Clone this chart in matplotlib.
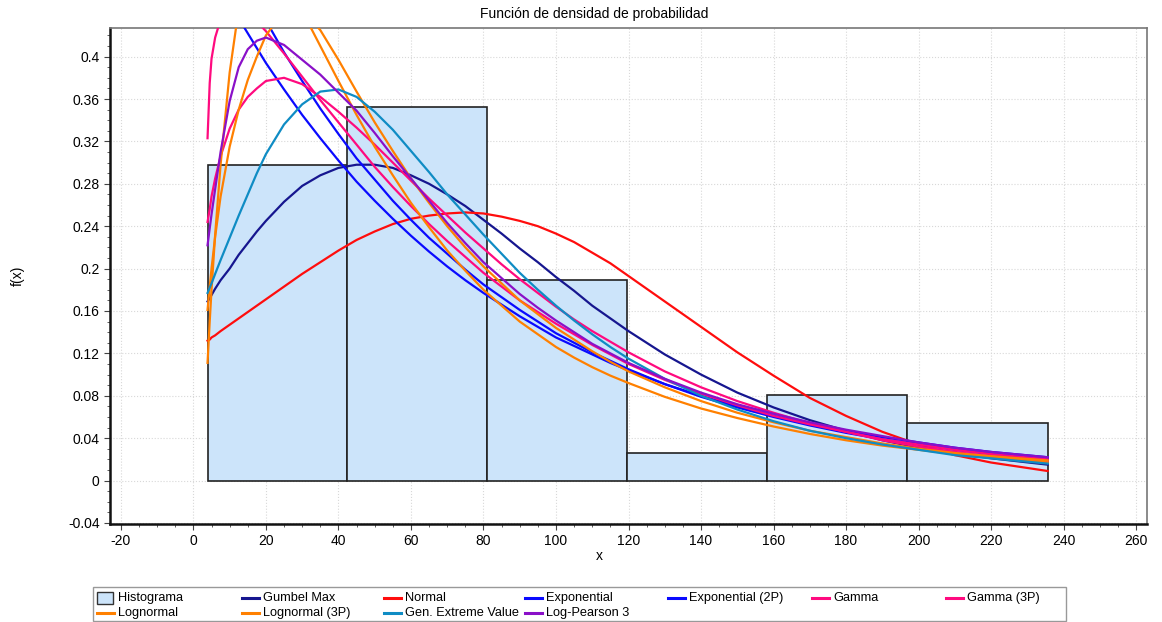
import matplotlib
matplotlib.use('Agg')
import matplotlib.pyplot as plt
from matplotlib.ticker import MultipleLocator, FuncFormatter
from matplotlib.patches import Rectangle
from matplotlib.lines import Line2D
import numpy as np

plt.rcParams['font.family'] = ['Liberation Sans', 'DejaVu Sans']

# histogram (relative frequency per bin)
bin_edges = [3.9, 42.5, 81.1, 119.7, 158.3, 196.9, 235.6]
bin_heights = [0.298, 0.352, 0.189, 0.026, 0.081, 0.054]

# x positions where the fitted curves were read
x_fit = [3.9, 4.5, 5, 6, 7.5, 10, 12.5, 15, 17.5, 20, 25, 30, 35, 40, 45, 50,
         55, 60, 65, 70, 75, 80, 85, 90, 95, 100, 105, 110, 115, 120,
         130, 140, 150, 160, 170, 180, 190, 200, 210, 220, 235.6]

gumbel_max = [0.169, 0.172, 0.175, 0.181, 0.189, 0.200, 0.213, 0.224, 0.235, 0.245,
              0.263, 0.278, 0.288, 0.295, 0.298, 0.298, 0.295, 0.288, 0.280, 0.270,
              0.259, 0.246, 0.233, 0.219, 0.206, 0.192, 0.179, 0.165, 0.153, 0.141,
              0.119, 0.100, 0.083, 0.069, 0.057, 0.047, 0.038, 0.031, 0.026, 0.021, 0.015]
normal = [0.132, 0.133, 0.135, 0.137, 0.141, 0.147, 0.153, 0.159, 0.165, 0.171,
          0.183, 0.195, 0.206, 0.217, 0.227, 0.235, 0.242, 0.247, 0.250, 0.252,
          0.253, 0.252, 0.249, 0.245, 0.240, 0.233, 0.225, 0.215, 0.205, 0.193,
          0.169, 0.145, 0.121, 0.099, 0.078, 0.061, 0.046, 0.034, 0.024, 0.017, 0.009]
exponential = [0.489, 0.485, 0.482, 0.475, 0.466, 0.451, 0.436, 0.422, 0.408, 0.394,
               0.369, 0.345, 0.323, 0.302, 0.282, 0.264, 0.247, 0.231, 0.216, 0.202,
               0.189, 0.177, 0.166, 0.155, 0.145, 0.135, 0.127, 0.119, 0.111, 0.104,
               0.091, 0.080, 0.070, 0.061, 0.053, 0.047, 0.041, 0.036, 0.031, 0.027, 0.022]
exponential_2p = [0.546, 0.541, 0.537, 0.529, 0.518, 0.500, 0.483, 0.466, 0.450, 0.434,
                  0.404, 0.377, 0.351, 0.327, 0.304, 0.284, 0.264, 0.246, 0.229, 0.214,
                  0.199, 0.185, 0.173, 0.161, 0.150, 0.139, 0.130, 0.121, 0.113, 0.105,
                  0.091, 0.079, 0.069, 0.060, 0.052, 0.045, 0.039, 0.034, 0.029, 0.025, 0.020]
gamma = [0.244, 0.256, 0.268, 0.285, 0.306, 0.332, 0.350, 0.362, 0.370, 0.377,
         0.380, 0.374, 0.362, 0.348, 0.333, 0.317, 0.300, 0.283, 0.266, 0.250,
         0.234, 0.219, 0.204, 0.190, 0.177, 0.164, 0.152, 0.141, 0.131, 0.121,
         0.103, 0.088, 0.075, 0.064, 0.054, 0.046, 0.038, 0.032, 0.027, 0.023, 0.018]
gamma_3p = [0.323, 0.375, 0.398, 0.418, 0.435, 0.450, 0.448, 0.442, 0.433, 0.424,
            0.403, 0.381, 0.359, 0.338, 0.317, 0.296, 0.277, 0.259, 0.242, 0.226,
            0.211, 0.196, 0.183, 0.170, 0.159, 0.148, 0.138, 0.128, 0.119, 0.110,
            0.095, 0.082, 0.071, 0.061, 0.053, 0.046, 0.039, 0.034, 0.029, 0.025, 0.020]
lognormal = [0.161, 0.183, 0.200, 0.230, 0.268, 0.315, 0.350, 0.378, 0.400, 0.420,
             0.443, 0.444, 0.425, 0.397, 0.367, 0.338, 0.311, 0.285, 0.262, 0.240,
             0.220, 0.202, 0.186, 0.170, 0.157, 0.144, 0.133, 0.122, 0.112, 0.103,
             0.088, 0.075, 0.064, 0.055, 0.047, 0.041, 0.035, 0.030, 0.026, 0.023, 0.019]
lognormal_3p = [0.111, 0.150, 0.180, 0.232, 0.298, 0.385, 0.445, 0.475, 0.487, 0.488,
                0.472, 0.443, 0.410, 0.377, 0.345, 0.315, 0.288, 0.262, 0.239, 0.217,
                0.198, 0.180, 0.165, 0.150, 0.138, 0.126, 0.116, 0.107, 0.099, 0.092,
                0.079, 0.068, 0.059, 0.051, 0.044, 0.038, 0.033, 0.029, 0.025, 0.022, 0.017]
gev = [0.177, 0.182, 0.186, 0.195, 0.208, 0.229, 0.250, 0.270, 0.290, 0.308,
       0.336, 0.355, 0.367, 0.369, 0.362, 0.348, 0.331, 0.311, 0.291, 0.270,
       0.251, 0.232, 0.214, 0.196, 0.180, 0.165, 0.151, 0.138, 0.126, 0.115,
       0.096, 0.080, 0.067, 0.056, 0.047, 0.040, 0.034, 0.029, 0.024, 0.021, 0.016]
log_pearson3 = [0.222, 0.238, 0.251, 0.275, 0.310, 0.358, 0.390, 0.407, 0.415, 0.418,
                0.411, 0.397, 0.383, 0.366, 0.349, 0.328, 0.306, 0.285, 0.264, 0.243,
                0.224, 0.206, 0.191, 0.176, 0.163, 0.151, 0.140, 0.129, 0.120, 0.111,
                0.096, 0.083, 0.072, 0.063, 0.055, 0.048, 0.042, 0.036, 0.031, 0.027, 0.022]

curves = [
    ('Gumbel Max', gumbel_max, '#16168f'),
    ('Normal', normal, '#ff0d0d'),
    ('Exponential', exponential, '#0a0aff'),
    ('Exponential (2P)', exponential_2p, '#0a0aff'),
    ('Gamma', gamma, '#ff0a7f'),
    ('Gamma (3P)', gamma_3p, '#ff0a7f'),
    ('Lognormal', lognormal, '#ff8000'),
    ('Lognormal (3P)', lognormal_3p, '#ff8000'),
    ('Gen. Extreme Value', gev, '#0f8cc4'),
    ('Log-Pearson 3', log_pearson3, '#8a10c8'),
]
hist_color = '#cce4fa'

W, H = 1162, 622
fig = plt.figure(figsize=(W / 100, H / 100), dpi=100)
ax = fig.add_axes([110 / W, 1 - 524 / H, 1037 / W, 496 / H])

widths = np.diff(bin_edges)
ax.bar(bin_edges[:-1], bin_heights, width=widths, align='edge',
       color=hist_color, edgecolor='#222222', linewidth=1.2, zorder=2)

for name, vals, col in curves:
    ax.plot(x_fit, vals, color=col, lw=1.6, zorder=3, solid_joinstyle='round')

ax.set_xlim(-23, 263)
ax.set_ylim(-0.041, 0.427)
ax.xaxis.set_major_locator(MultipleLocator(20))
ax.xaxis.set_minor_locator(MultipleLocator(5))
ax.yaxis.set_major_locator(MultipleLocator(0.04))
ax.yaxis.set_minor_locator(MultipleLocator(0.01))
ax.yaxis.set_major_formatter(FuncFormatter(lambda v, p: '%g' % round(v, 3)))
ax.xaxis.set_major_formatter(FuncFormatter(lambda v, p: '%g' % v))
ax.tick_params(which='both', direction='out', labelsize=10, color='#444444')
ax.tick_params(which='major', length=4)
ax.tick_params(which='minor', length=2)
ax.grid(True, which='major', color='#d8d8d8', linestyle=':', lw=0.8, zorder=0)
ax.set_axisbelow(True)

for s in ['left', 'bottom']:
    ax.spines[s].set_linewidth(1.8)
    ax.spines[s].set_color('#111111')
for s in ['top', 'right']:
    ax.spines[s].set_linewidth(1.2)
    ax.spines[s].set_color('#777777')

def px(x, y):
    return x / W, 1 - y / H

fig.text(*px(594, 14), 'Función de densidad de probabilidad', ha='center', va='center', fontsize=10)
fig.text(*px(599, 556), 'x', ha='center', va='center', fontsize=10)
fig.text(*px(18, 276), 'f(x)', rotation=90, ha='center', va='center', fontsize=10)

# legend drawn by hand, row-major with fixed column positions
fig.patches.append(Rectangle(px(93, 621), 973 / W, 34 / H, transform=fig.transFigure,
                             facecolor='white', edgecolor='#999999', lw=1.0))
col_x = [97, 242, 384, 525, 668, 812, 946]
row_y = [598, 613]
labels = ['Histograma'] + [c[0] for c in curves]
colors = [None] + [c[2] for c in curves]
for i, (lab, col) in enumerate(zip(labels, colors)):
    x0 = col_x[i % 7]
    y0 = row_y[i // 7]
    if col is None:
        fig.patches.append(Rectangle(px(x0, y0 + 6), 16 / W, 12 / H,
                                     transform=fig.transFigure, facecolor=hist_color,
                                     edgecolor='#333333', lw=1.0))
    else:
        fig.lines.append(Line2D([x0 / W, (x0 + 17) / W], [1 - y0 / H, 1 - y0 / H],
                                transform=fig.transFigure, color=col, lw=2.2))
    fig.text(*px(x0 + 21, y0), lab, ha='left', va='center', fontsize=9.2)

fig.savefig('out.png', dpi=100)
